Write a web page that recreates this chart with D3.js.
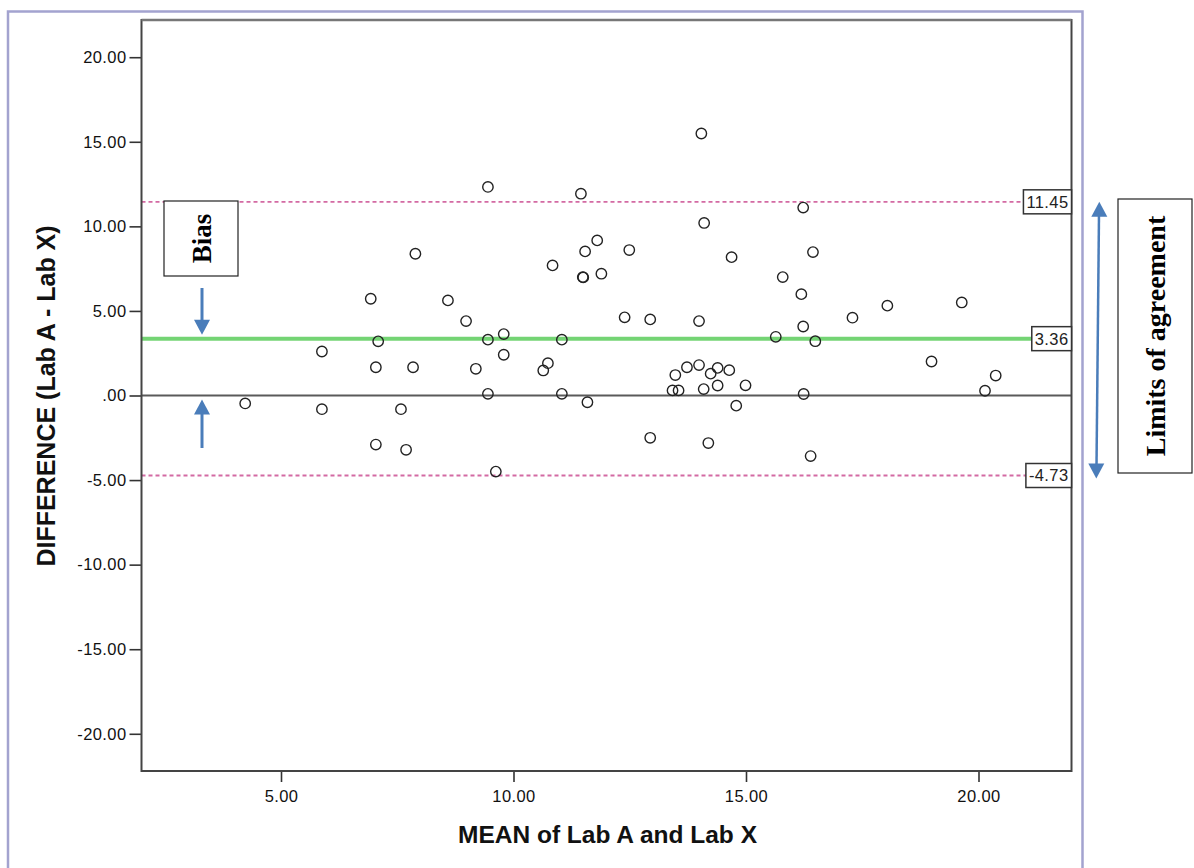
<!DOCTYPE html>
<html>
<head>
<meta charset="utf-8">
<script src="https://cdn.jsdelivr.net/npm/d3@7"></script>
<style>
  body { margin: 0; background: #fff; }
  svg text { font-family: "Liberation Sans", Arial, sans-serif; }
</style>
</head>
<body>
<div id="chart"></div>
<script>
// Bland-Altman plot, Lab A vs Lab X

// mean of the two labs (x) and their difference (y), one entry per sample
var meanVals = [4.23, 5.88, 5.88, 6.93, 7.09, 7.04, 7.04, 7.58, 7.69, 7.89, 7.84, 8.59, 8.98, 9.19,
  9.45, 9.45, 9.45, 9.62, 9.79, 9.79, 10.64, 10.74, 10.84, 11.04, 11.04, 11.45, 11.54, 11.49, 11.50,
  11.80, 11.89, 11.59, 12.39, 12.49, 12.94, 12.94, 13.42, 13.55, 13.48, 13.73, 13.99, 14.24, 14.39,
  14.64, 14.09, 14.39, 14.99, 14.79, 14.19, 14.04, 14.10, 13.99, 14.69, 15.64, 15.79, 16.19, 16.23,
  16.23, 16.24, 16.39, 16.44, 16.49, 17.29, 18.04, 18.99, 19.64, 20.14, 20.37];
var diffVals = [-0.47, 2.60, -0.81, 5.72, 3.20, 1.67, -2.90, -0.81, -3.21, 8.38, 1.67, 5.62, 4.40, 1.58,
  12.33, 3.30, 0.10, -4.50, 3.63, 2.41, 1.48, 1.91, 7.69, 3.30, 0.10, 11.93, 8.52, 7.00, 6.98,
  9.17, 7.20, -0.40, 4.62, 8.60, 4.50, -2.50, 0.30, 0.30, 1.21, 1.67, 1.80, 1.29, 1.63,
  1.50, 0.38, 0.59, 0.60, -0.60, -2.81, 15.49, 10.20, 4.40, 8.18, 3.47, 7.00, 5.99, 11.11,
  4.08, 0.09, -3.58, 8.48, 3.21, 4.60, 5.31, 2.01, 5.50, 0.28, 1.18];

var xTickVals = [5, 10, 15, 20];
var xTickLabels = ["5.00", "10.00", "15.00", "20.00"];
var yTickVals = [-20, -15, -10, -5, 0, 5, 10, 15, 20];
var yTickLabels = ["-20.00", "-15.00", "-10.00", "-5.00", ".00", "5.00", "10.00", "15.00", "20.00"];

// reference lines: bias and limits of agreement
var bias = 3.36;
var upperLoa = 11.45;
var lowerLoa = -4.73;
var refVals = [upperLoa, bias, lowerLoa];
var refLabels = ["11.45", "3.36", "-4.73"];

var W = 1194, H = 868;
var plotL = 141.5, plotR = 1071.5, plotT = 20, plotB = 771;
var blue = "#4a7dba";

var svg = d3.select("#chart").append("svg")
  .attr("width", W)
  .attr("height", H);

var x = d3.scaleLinear().domain([2, 22]).range([plotL, plotR]);
var y = d3.scaleLinear().domain([-22.2, 22.2]).range([plotB, plotT]);

// outer panel border (light purple)
svg.append("path")
  .attr("d", "M8,868 V11.5 H1082.5 V868")
  .attr("fill", "none")
  .attr("stroke", "#a3a3cf")
  .attr("stroke-width", 2.5);

// axes
var yAxis = svg.append("g")
  .attr("transform", "translate(" + plotL + ",0)")
  .call(d3.axisLeft(y)
    .tickValues(yTickVals)
    .tickFormat(function(d, i) { return yTickLabels[i]; })
    .tickSize(12)
    .tickPadding(3));

var xAxis = svg.append("g")
  .attr("transform", "translate(0," + plotB + ")")
  .call(d3.axisBottom(x)
    .tickValues(xTickVals)
    .tickFormat(function(d, i) { return xTickLabels[i]; })
    .tickSize(11)
    .tickPadding(8));

[xAxis, yAxis].forEach(function(a) {
  a.attr("font-size", null).attr("font-family", null);
  a.select(".domain").remove();
  a.selectAll(".tick line").attr("stroke", "#333").attr("stroke-width", 1.6);
  a.selectAll(".tick text")
    .attr("fill", "#111")
    .style("font-size", "16.5px")
    .style("letter-spacing", "0.4px");
});

// zero line
svg.append("line")
  .attr("x1", plotL).attr("x2", plotR)
  .attr("y1", y(0)).attr("y2", y(0))
  .attr("stroke", "#5a5a5a")
  .attr("stroke-width", 2);

// limits of agreement
svg.selectAll("line.loa")
  .data([upperLoa, lowerLoa])
  .enter().append("line")
  .attr("class", "loa")
  .attr("x1", plotL).attr("x2", plotR)
  .attr("y1", function(d) { return y(d); })
  .attr("y2", function(d) { return y(d); })
  .attr("stroke", "#d36aa3")
  .attr("stroke-width", 1.8)
  .attr("stroke-dasharray", "4,3");

// bias line
svg.append("line")
  .attr("x1", plotL).attr("x2", plotR)
  .attr("y1", y(bias)).attr("y2", y(bias))
  .attr("stroke", "#74d474")
  .attr("stroke-width", 4);

// points
svg.append("g").selectAll("circle")
  .data(meanVals)
  .enter().append("circle")
  .attr("cx", function(d) { return x(d); })
  .attr("cy", function(d, i) { return y(diffVals[i]); })
  .attr("r", 5.2)
  .attr("fill", "none")
  .attr("stroke", "#222")
  .attr("stroke-width", 1.4);

// plot frame
svg.append("rect")
  .attr("x", plotL).attr("y", plotT)
  .attr("width", plotR - plotL).attr("height", plotB - plotT)
  .attr("fill", "none")
  .attr("stroke", "#444")
  .attr("stroke-width", 2);
svg.append("line")
  .attr("x1", plotL).attr("x2", plotR)
  .attr("y1", plotT).attr("y2", plotT)
  .attr("stroke", "#777")
  .attr("stroke-width", 2.6);

// value boxes at the right edge of the frame
refVals.forEach(function(v, i) {
  var g = svg.append("g");
  var box = g.append("rect");
  var t = g.append("text")
    .attr("x", plotR - 3)
    .attr("y", y(v))
    .attr("dy", "0.36em")
    .attr("text-anchor", "end")
    .attr("fill", "#222")
    .style("font-size", "16.5px")
    .style("letter-spacing", "0.4px")
    .text(refLabels[i]);
  var w = t.node().getComputedTextLength() + 6;
  box.attr("x", plotR - w).attr("y", y(v) - 12)
    .attr("width", w).attr("height", 24)
    .attr("fill", "#fff")
    .attr("stroke", "#333")
    .attr("stroke-width", 1.5);
});

// axis titles
svg.append("text")
  .attr("x", (plotL + plotR) / 2 + 1)
  .attr("y", 843)
  .attr("text-anchor", "middle")
  .attr("font-weight", "bold")
  .style("font-size", "24.5px")
  .attr("fill", "#111")
  .text("MEAN of Lab A and Lab X");

svg.append("text")
  .attr("transform", "translate(55," + 396 + ") rotate(-90)")
  .attr("text-anchor", "middle")
  .attr("font-weight", "bold")
  .style("font-size", "25px")
  .attr("fill", "#111")
  .text("DIFFERENCE (Lab A - Lab X)");

// triangle head with its tip at (px, py); dir = 1 points down, -1 points up
function arrowHead(px, py, dir) {
  var hl = 15, hw = 8;
  return "M" + px + "," + py +
    " L" + (px - hw) + "," + (py - dir * hl) +
    " L" + (px + hw) + "," + (py - dir * hl) + " Z";
}

// Bias annotation
svg.append("rect")
  .attr("x", 164).attr("y", 201)
  .attr("width", 74).attr("height", 75)
  .attr("fill", "#fff")
  .attr("stroke", "#222")
  .attr("stroke-width", 1.2);
svg.append("text")
  .attr("transform", "translate(202,238.5) rotate(-90)")
  .attr("dy", "0.35em")
  .attr("text-anchor", "middle")
  .attr("font-weight", "bold")
  .style("font-family", "'Liberation Serif', 'Times New Roman', serif")
  .style("font-size", "27px")
  .attr("fill", "#000")
  .text("Bias");

var downTip = y(bias) - 4, upTip = y(0) + 4;
svg.append("line")
  .attr("x1", 202).attr("x2", 202).attr("y1", 288).attr("y2", downTip - 12)
  .attr("stroke", blue).attr("stroke-width", 3);
svg.append("path").attr("d", arrowHead(202, downTip, 1)).attr("fill", blue);
svg.append("line")
  .attr("x1", 202).attr("x2", 202).attr("y1", 448).attr("y2", upTip + 12)
  .attr("stroke", blue).attr("stroke-width", 3);
svg.append("path").attr("d", arrowHead(202, upTip, -1)).attr("fill", blue);

// Limits of agreement annotation
var topTip = y(upperLoa), botTip = y(lowerLoa) + 3;
svg.append("line")
  .attr("x1", 1099).attr("x2", 1096.5)
  .attr("y1", topTip + 12).attr("y2", botTip - 12)
  .attr("stroke", blue).attr("stroke-width", 2.5);
svg.append("path").attr("d", arrowHead(1099.3, topTip, -1)).attr("fill", blue);
svg.append("path").attr("d", arrowHead(1096.3, botTip, 1)).attr("fill", blue);

svg.append("rect")
  .attr("x", 1118).attr("y", 199)
  .attr("width", 74).attr("height", 274)
  .attr("fill", "#fff")
  .attr("stroke", "#222")
  .attr("stroke-width", 1.2);
svg.append("text")
  .attr("transform", "translate(1155,336) rotate(-90)")
  .attr("dy", "0.35em")
  .attr("text-anchor", "middle")
  .attr("font-weight", "bold")
  .style("font-family", "'Liberation Serif', 'Times New Roman', serif")
  .style("font-size", "28px")
  .attr("fill", "#000")
  .text("Limits of agreement");
</script>
</body>
</html>
